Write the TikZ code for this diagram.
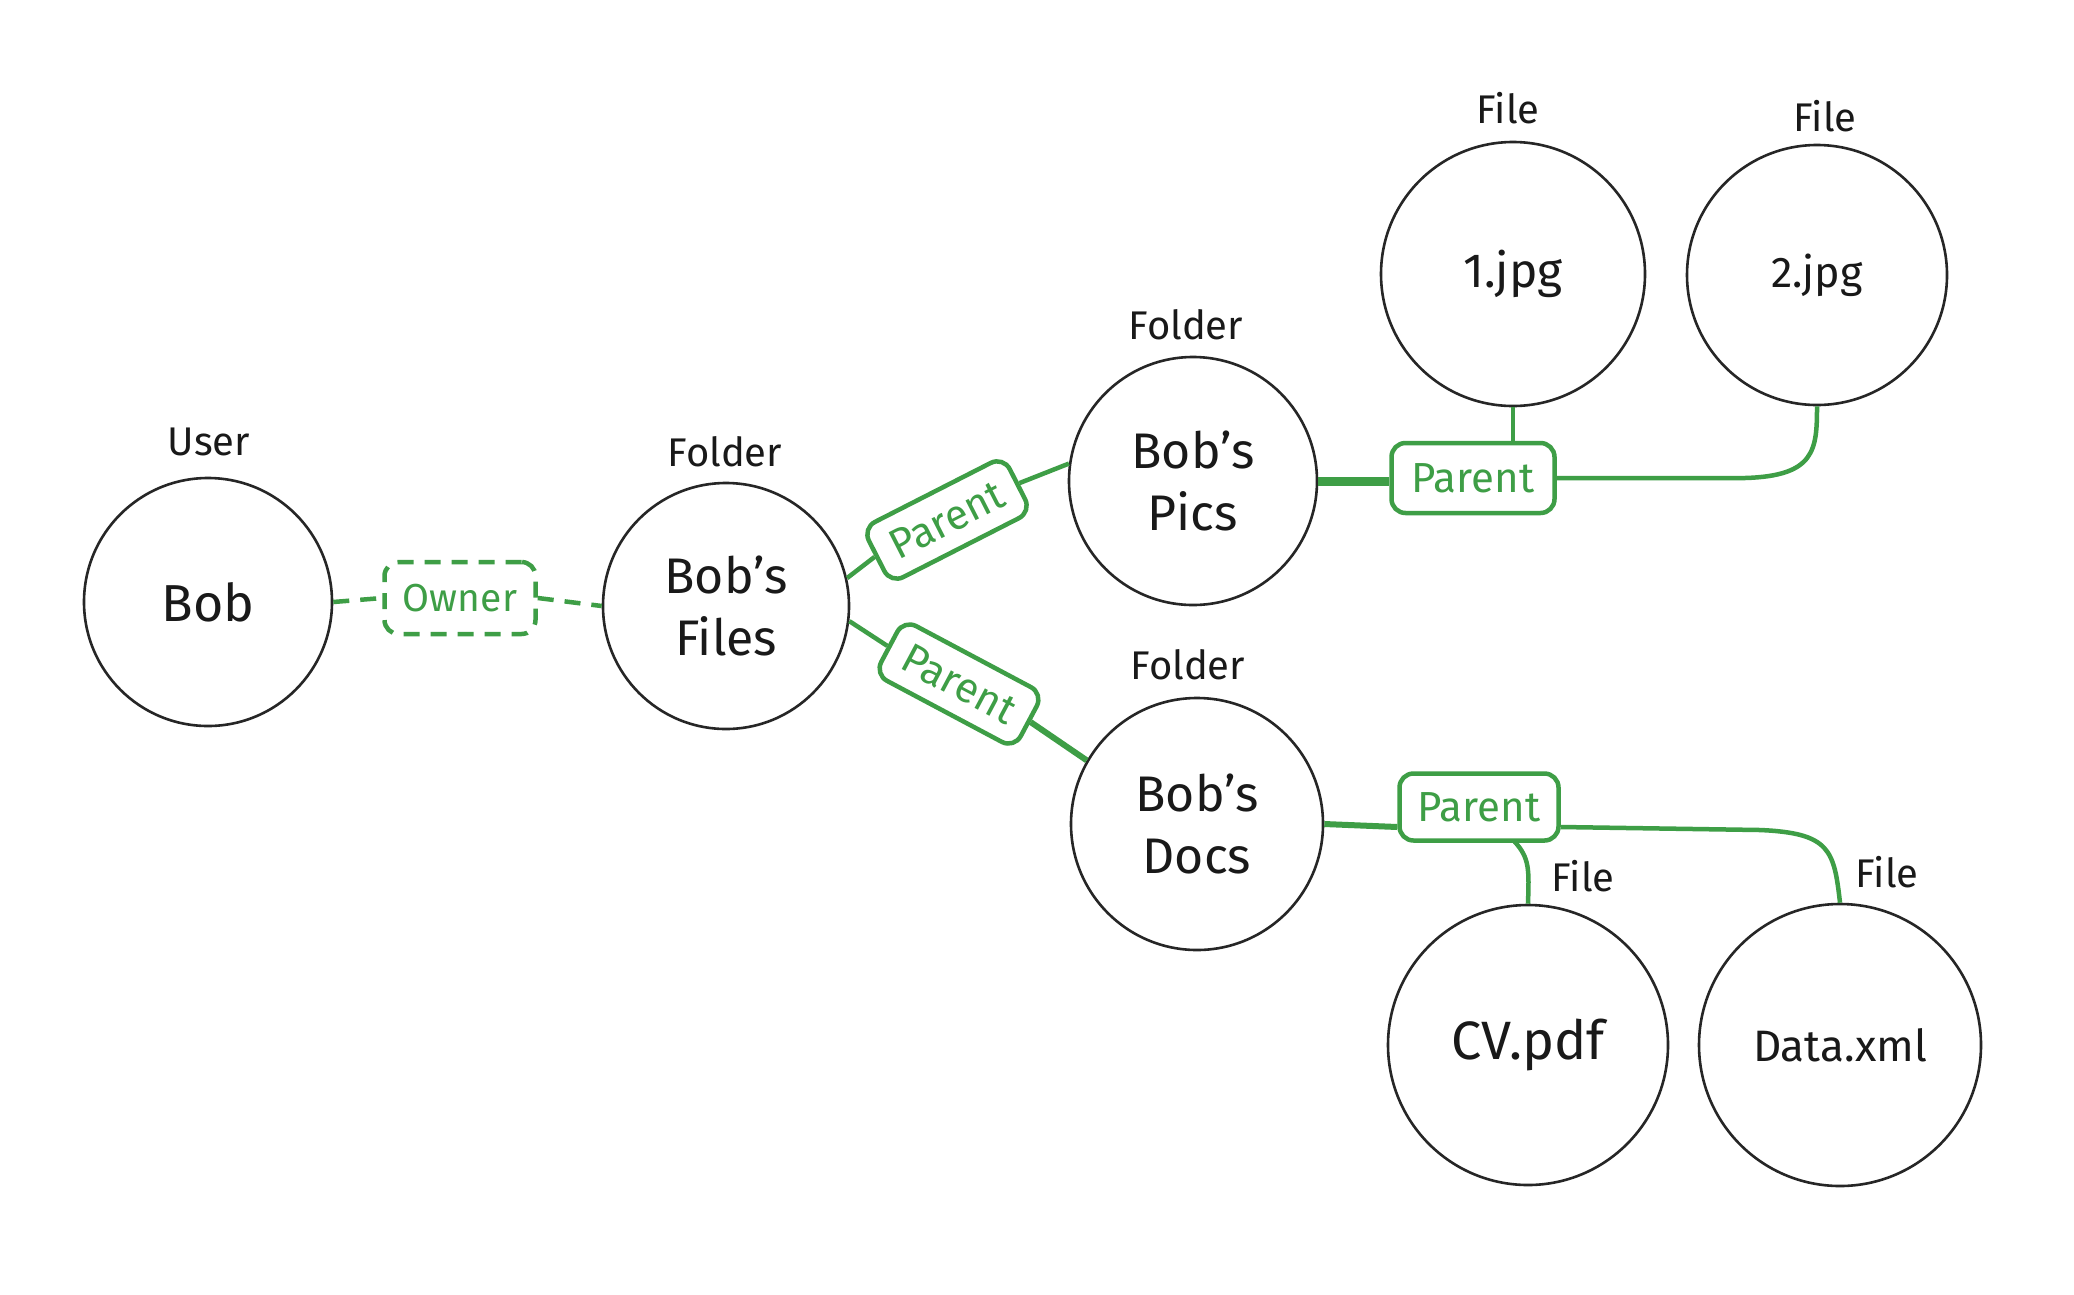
\documentclass[tikz,border=0pt]{standalone}
\usepackage{fontspec}
\setmainfont{Fira Sans}
\definecolor{grn}{RGB}{62,158,70}
\tikzset{
  ent/.style={circle, draw=black!85, line width=2.6pt, inner sep=0pt, align=center, text=black!90},
  typ/.style={font=\fontsize{40}{48}\selectfont, text=black!90, inner sep=0pt},
  rel/.style={draw=grn, line width=4.5pt, rounded corners=14pt, text=grn, inner sep=0pt, font=\fontsize{42}{50}\selectfont},
  conn/.style={draw=grn, line width=4.5pt},
}
\begin{document}
\begin{tikzpicture}[x=1pt,y=-1pt]
\useasboundingbox[fill=white] (0,0) rectangle (2074,1294);
% entities
\node[ent, minimum size=248pt, font=\fontsize{52}{62}\selectfont] (bob) at (208,602) {Bob};
\node[ent, minimum size=246pt, font=\fontsize{50}{62}\selectfont] (files) at (726,606) {Bob's\\Files};
\node[ent, minimum size=248pt, font=\fontsize{50}{62}\selectfont] (pics) at (1193,481) {Bob's\\Pics};
\node[ent, minimum size=252pt, font=\fontsize{50}{62}\selectfont] (docs) at (1197,824) {Bob's\\Docs};
\node[ent, minimum size=264pt, font=\fontsize{48}{58}\selectfont] (j1) at (1513,274) {1.jpg};
\node[ent, minimum size=260pt, font=\fontsize{43}{52}\selectfont] (j2) at (1817,275) {2.jpg};
\node[ent, minimum size=280pt, font=\fontsize{54}{64}\selectfont] (cv) at (1528,1045) {CV.pdf};
\node[ent, minimum size=282pt, font=\fontsize{44}{52}\selectfont] (data) at (1840,1045) {Data.xml};
% type labels
\node[typ] (tUser) at (209,442) {User};
\node[typ] (tFiles) at (725,452) {Folder};
\node[typ] (tPics) at (1186,325) {Folder};
\node[typ] (tDocs) at (1188,665) {Folder};
\node[typ] (tJ1) at (1508,108) {File};
\node[typ] (tJ2) at (1825,116) {File};
\node[typ] (tCV) at (1583,876) {File};
\node[typ] (tData) at (1887,872) {File};
% relation boxes
\node[rel, dashed, dash pattern=on 16pt off 11pt, minimum width=151pt, minimum height=72pt, font=\fontsize{39}{46}\selectfont] (own) at (460,598) {Owner};
\node[rel, minimum width=158pt, minimum height=62pt, rotate=27] (p1) at (947,520) {Parent};
\node[rel, minimum width=158pt, minimum height=62pt, rotate=-28] (p2) at (959,684) {Parent};
\node[rel, minimum width=163pt, minimum height=70pt] (p3) at (1473,478) {Parent};
\node[rel, minimum width=159pt, minimum height=67pt] (p4) at (1479,807) {Parent};
% connectors
\draw[conn, dashed, dash pattern=on 16pt off 11pt] (bob.east) -- (own.west);
\draw[conn, dashed, dash pattern=on 16pt off 11pt] (own.east) -- (files.west);
\draw[conn] (files.13) -- (p1.west);
\draw[conn] (p1.east) -- (pics.172);
\draw[conn] (files.-7) -- (p2.west);
\draw[conn, line width=6pt] (p2.east) -- (docs.150);
\draw[conn, line width=9pt] (pics.east) -- (pics.east -| p3.west);
\draw[conn] (j1.south) -- (j1.south |- p3.north);
\coordinate (c3) at (1745,478);
\draw[conn] (p3.east) -- (c3) .. controls (1815,476) and (1817,450) .. (j2.south);
\coordinate (p4l) at (p4.west |- 0,827);
\coordinate (p4r) at (p4.east |- 0,827);
\coordinate (c4) at (1760,830);
\draw[conn, line width=6pt] (docs.east) -- (p4l);
\draw[conn] (p4r) -- (c4) .. controls (1830,833) and (1834,850) .. (data.north);
\coordinate (p4b) at (1514,841);
\draw[conn] (p4b) .. controls (1530,858) and (1529,870) .. (cv.north);
\end{tikzpicture}
\end{document}
